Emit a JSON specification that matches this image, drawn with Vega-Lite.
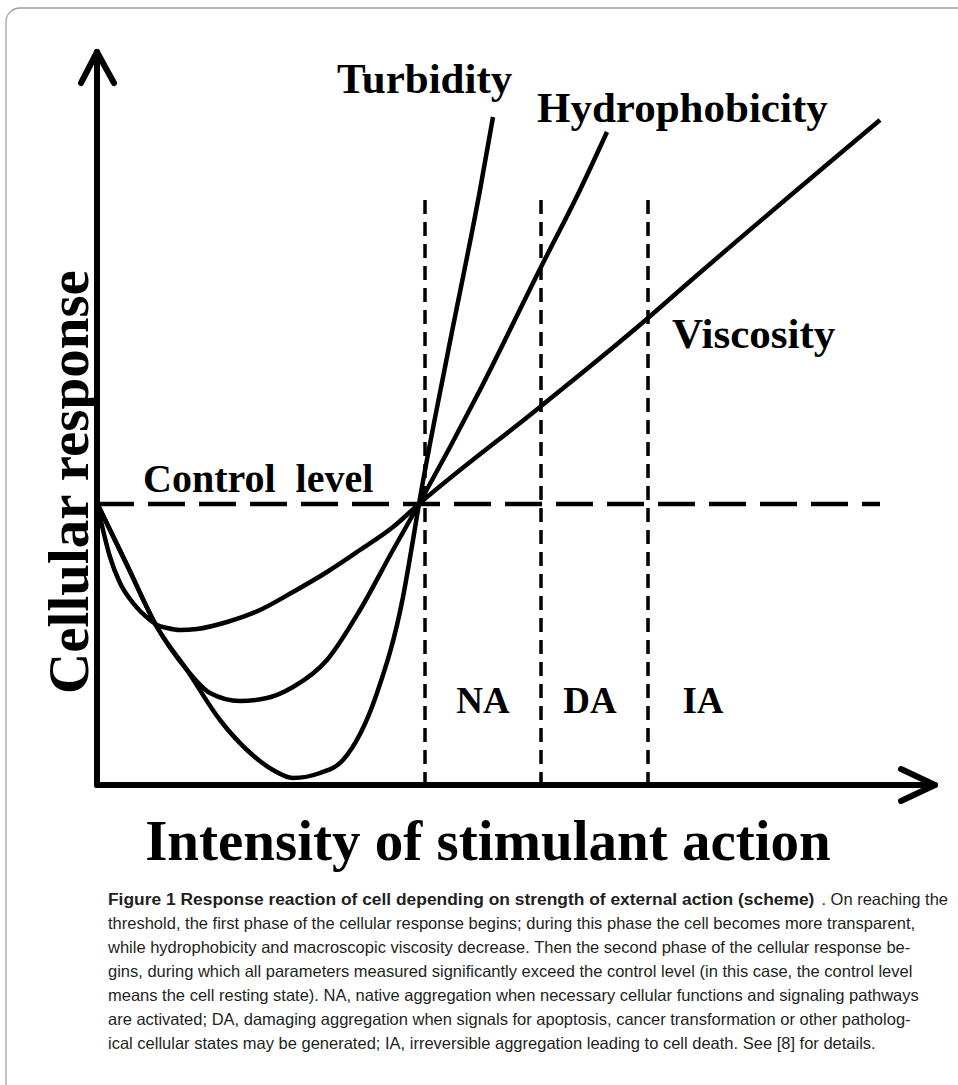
{
  "$schema": "https://vega.github.io/schema/vega-lite/v6.json",
  "width": 958,
  "height": 1085,
  "padding": 0,
  "autosize": {"type": "fit", "contains": "padding"},
  "background": "white",
  "config": {"view": {"stroke": null}},
  "encoding": {
    "x": {"field": "x", "type": "quantitative", "scale": {"domain": [-97, 861], "nice": false, "zero": false}, "axis": null},
    "y": {"field": "y", "type": "quantitative", "scale": {"domain": [-300, 785], "nice": false, "zero": false}, "axis": null}
  },
  "layer": [
    {
      "data": {"values": [{"x": -91, "x2": 900, "y": 777, "y2": -350}]},
      "mark": {"type": "rect", "clip": true, "filled": false, "stroke": "#a0a0a0", "strokeWidth": 1.3, "cornerRadius": 14},
      "encoding": {"x2": {"field": "x2"}, "y2": {"field": "y2"}}
    },
    {
      "data": {"values": [
        {"seg": "yaxis", "i": 0, "x": 0, "y": 0},
        {"seg": "yaxis", "i": 1, "x": 0, "y": 733},
        {"seg": "yhead", "i": 0, "x": -16, "y": 702},
        {"seg": "yhead", "i": 1, "x": 0, "y": 733},
        {"seg": "yhead", "i": 2, "x": 17, "y": 702},
        {"seg": "xaxis", "i": 0, "x": 0, "y": 0},
        {"seg": "xaxis", "i": 1, "x": 838, "y": 0},
        {"seg": "xhead", "i": 0, "x": 804, "y": 16},
        {"seg": "xhead", "i": 1, "x": 838, "y": 0},
        {"seg": "xhead", "i": 2, "x": 804, "y": -16}
      ]},
      "mark": {"type": "line", "color": "black", "strokeWidth": 6, "strokeCap": "round", "strokeJoin": "round"},
      "encoding": {"detail": {"field": "seg"}, "order": {"field": "i", "type": "quantitative"}}
    },
    {
      "data": {"values": [{"x": 0, "y": 281}, {"x": 783, "y": 281}]},
      "mark": {"type": "line", "color": "black", "strokeWidth": 4.5, "strokeDash": [37, 14]},
      "encoding": {}
    },
    {
      "data": {"values": [
        {"x": 328, "y": 585, "y2": 0},
        {"x": 444, "y": 585, "y2": 0},
        {"x": 551, "y": 585, "y2": 0}
      ]},
      "mark": {"type": "rule", "color": "black", "strokeWidth": 3.5, "strokeDash": [14, 8]},
      "encoding": {"y2": {"field": "y2"}}
    },
    {
      "data": {"values": [
        {"curve": "Viscosity", "x": 0, "y": 282},
        {"curve": "Viscosity", "x": 6, "y": 255},
        {"curve": "Viscosity", "x": 13, "y": 228},
        {"curve": "Viscosity", "x": 23, "y": 202},
        {"curve": "Viscosity", "x": 36, "y": 182},
        {"curve": "Viscosity", "x": 53, "y": 165},
        {"curve": "Viscosity", "x": 60, "y": 160},
        {"curve": "Viscosity", "x": 70, "y": 157},
        {"curve": "Viscosity", "x": 83, "y": 155},
        {"curve": "Viscosity", "x": 100, "y": 156},
        {"curve": "Viscosity", "x": 130, "y": 163},
        {"curve": "Viscosity", "x": 163, "y": 175},
        {"curve": "Viscosity", "x": 196, "y": 193},
        {"curve": "Viscosity", "x": 230, "y": 213},
        {"curve": "Viscosity", "x": 263, "y": 235},
        {"curve": "Viscosity", "x": 296, "y": 258},
        {"curve": "Viscosity", "x": 322, "y": 281},
        {"curve": "Viscosity", "x": 443, "y": 378},
        {"curve": "Viscosity", "x": 551, "y": 467},
        {"curve": "Viscosity", "x": 583, "y": 495},
        {"curve": "Viscosity", "x": 783, "y": 665},
        {"curve": "Turbidity", "x": 0, "y": 282},
        {"curve": "Turbidity", "x": 30, "y": 220},
        {"curve": "Turbidity", "x": 60, "y": 158},
        {"curve": "Turbidity", "x": 90, "y": 115},
        {"curve": "Turbidity", "x": 123, "y": 65},
        {"curve": "Turbidity", "x": 150, "y": 35},
        {"curve": "Turbidity", "x": 176, "y": 15},
        {"curve": "Turbidity", "x": 196, "y": 7},
        {"curve": "Turbidity", "x": 223, "y": 12},
        {"curve": "Turbidity", "x": 246, "y": 25},
        {"curve": "Turbidity", "x": 280, "y": 92},
        {"curve": "Turbidity", "x": 306, "y": 188},
        {"curve": "Turbidity", "x": 316, "y": 245},
        {"curve": "Turbidity", "x": 322, "y": 281},
        {"curve": "Turbidity", "x": 350, "y": 428},
        {"curve": "Turbidity", "x": 383, "y": 595},
        {"curve": "Turbidity", "x": 396, "y": 668},
        {"curve": "Hydrophobicity", "x": 0, "y": 282},
        {"curve": "Hydrophobicity", "x": 30, "y": 220},
        {"curve": "Hydrophobicity", "x": 60, "y": 158},
        {"curve": "Hydrophobicity", "x": 90, "y": 115},
        {"curve": "Hydrophobicity", "x": 113, "y": 92},
        {"curve": "Hydrophobicity", "x": 143, "y": 84},
        {"curve": "Hydrophobicity", "x": 170, "y": 87},
        {"curve": "Hydrophobicity", "x": 196, "y": 98},
        {"curve": "Hydrophobicity", "x": 230, "y": 125},
        {"curve": "Hydrophobicity", "x": 263, "y": 175},
        {"curve": "Hydrophobicity", "x": 296, "y": 235},
        {"curve": "Hydrophobicity", "x": 322, "y": 281},
        {"curve": "Hydrophobicity", "x": 383, "y": 395},
        {"curve": "Hydrophobicity", "x": 444, "y": 518},
        {"curve": "Hydrophobicity", "x": 483, "y": 595},
        {"curve": "Hydrophobicity", "x": 510, "y": 653}
      ]},
      "mark": {"type": "line", "color": "black", "strokeWidth": 4.5, "interpolate": "monotone", "strokeCap": "butt"},
      "encoding": {"detail": {"field": "curve"}}
    },
    {
      "data": {"values": [
        {"x": 240, "y": 692, "t": "Turbidity"},
        {"x": 440, "y": 663, "t": "Hydrophobicity"},
        {"x": 575, "y": 437, "t": "Viscosity"}
      ]},
      "mark": {"type": "text", "font": "Liberation Serif", "fontWeight": "bold", "fontSize": 43, "align": "left", "baseline": "alphabetic", "color": "black"},
      "encoding": {"text": {"field": "t"}}
    },
    {
      "data": {"values": [{"x": 46, "y": 293, "t": "Control \u00a0level"}]},
      "mark": {"type": "text", "font": "Liberation Serif", "fontWeight": "bold", "fontSize": 40, "align": "left", "baseline": "alphabetic", "color": "black"},
      "encoding": {"text": {"field": "t"}}
    },
    {
      "data": {"values": [
        {"x": 386, "y": 72, "t": "NA"},
        {"x": 493, "y": 72, "t": "DA"},
        {"x": 606, "y": 72, "t": "IA"}
      ]},
      "mark": {"type": "text", "font": "Liberation Serif", "fontWeight": "bold", "fontSize": 37, "align": "center", "baseline": "alphabetic", "color": "black"},
      "encoding": {"text": {"field": "t"}}
    },
    {
      "data": {"values": [{"x": -9, "y": 303, "t": "Cellular response"}]},
      "mark": {"type": "text", "font": "Liberation Serif", "fontWeight": "bold", "fontSize": 57, "angle": 270, "align": "center", "baseline": "alphabetic", "color": "black"},
      "encoding": {"text": {"field": "t"}}
    },
    {
      "data": {"values": [{"x": 391, "y": -75, "t": "Intensity of stimulant action"}]},
      "mark": {"type": "text", "font": "Liberation Serif", "fontWeight": "bold", "fontSize": 57, "align": "center", "baseline": "alphabetic", "color": "black"},
      "encoding": {"text": {"field": "t"}}
    },
    {
      "data": {"values": [{"x": 11, "y": -120, "t": "Figure 1 Response reaction of cell depending on strength of external action (scheme)"}]},
      "mark": {"type": "text", "font": "Liberation Sans", "fontWeight": "bold", "fontSize": 17.4, "align": "left", "baseline": "alphabetic", "color": "#231f20"},
      "encoding": {"text": {"field": "t"}}
    },
    {
      "data": {"values": [{"x": 851, "y": -120, "t": ". On reaching the"}]},
      "mark": {"type": "text", "font": "Liberation Sans", "fontSize": 16.5, "align": "right", "baseline": "alphabetic", "color": "#231f20"},
      "encoding": {"text": {"field": "t"}}
    },
    {
      "data": {"values": [
        {"x": 11, "y": -144, "t": "threshold, the first phase of the cellular response begins; during this phase the cell becomes more transparent,"},
        {"x": 11, "y": -168, "t": "while hydrophobicity and macroscopic viscosity decrease. Then the second phase of the cellular response be-"},
        {"x": 11, "y": -192, "t": "gins, during which all parameters measured significantly exceed the control level (in this case, the control level"},
        {"x": 11, "y": -216, "t": "means the cell resting state). NA, native aggregation when necessary cellular functions and signaling pathways"},
        {"x": 11, "y": -240, "t": "are activated; DA, damaging aggregation when signals for apoptosis, cancer transformation or other patholog-"},
        {"x": 11, "y": -264, "t": "ical cellular states may be generated; IA, irreversible aggregation leading to cell death. See [8] for details."}
      ]},
      "mark": {"type": "text", "font": "Liberation Sans", "fontSize": 16.5, "align": "left", "baseline": "alphabetic", "color": "#231f20"},
      "encoding": {"text": {"field": "t"}}
    }
  ]
}
